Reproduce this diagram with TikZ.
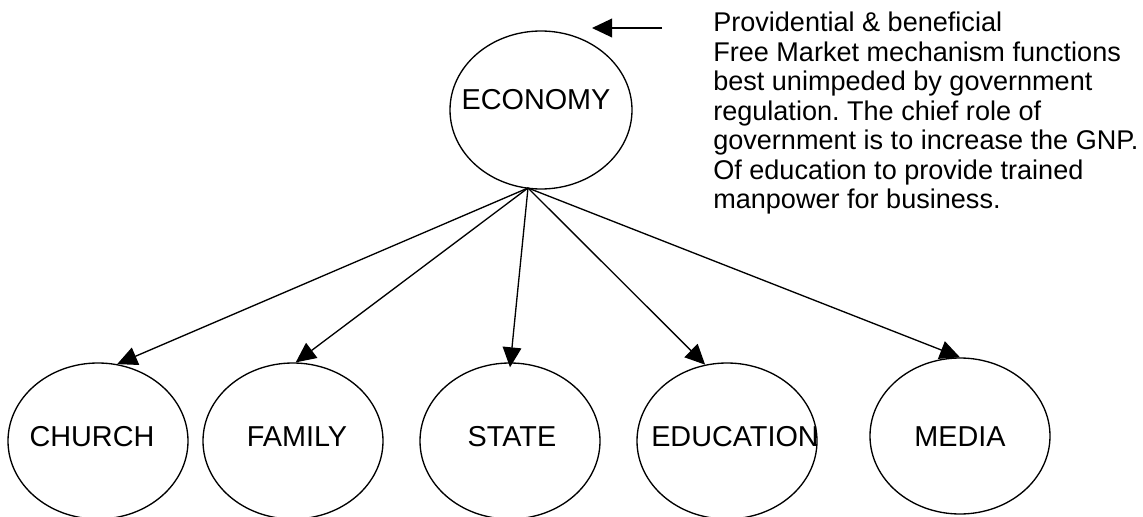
\documentclass[tikz,border=0pt]{standalone}
\usepackage{fontspec}
\setmainfont{Liberation Sans}
\usetikzlibrary{arrows.meta,shapes.geometric}
\frenchspacing
\begin{document}
\begin{tikzpicture}[x=0.75pt,y=-0.75pt,
  oval/.style={draw,ellipse,line width=1pt,minimum width=135pt,minimum height=117pt,inner sep=0pt},
  lbl/.style={font=\fontsize{21.6}{25}\selectfont,inner sep=0pt},
  arr/.style={line width=1pt,-{Triangle[length=15pt,width=14pt]}}
]
\useasboundingbox (0,0) rectangle (1143,517);
\node[oval,minimum width=136.5pt,minimum height=118.5pt,
  label={[lbl,xshift=-3.75pt,yshift=7.5pt]center:ECONOMY}] (econ) at (541,110) {};
\node[oval,label={[lbl,xshift=-4.5pt,yshift=3pt]center:CHURCH}] (church) at (98,441) {};
\node[oval,label={[lbl,xshift=3pt,yshift=3pt]center:FAMILY}] (family) at (293,441) {};
\node[oval,label={[lbl,xshift=1.5pt,yshift=3pt]center:STATE}] (state) at (510,441) {};
\node[oval,label={[lbl,xshift=6pt,yshift=3pt]center:EDUCATION}] (educ) at (727,441) {};
\node[oval,label={[lbl,yshift=-0.75pt]center:MEDIA}] (media) at (960,436) {};
\coordinate (hub) at (528,188);
\draw[arr] (hub) -- (church.76);
\draw[arr] (hub) -- (family.88);
\draw[arr] (hub) -- ([yshift=-3.75pt]state.north);
\draw[arr] (hub) -- (educ.106);
\draw[arr] (hub) -- (media.north);
\coordinate (pstart) at (662,28);
\coordinate (ptip) at (592,28);
\draw[arr] (pstart) -- (ptip);
\node[anchor=north west,align=left,inner sep=0pt,font=\fontsize{20.3}{22.1}\selectfont] (note) at (713,12)
{Providential \& beneficial\\
Free Market mechanism functions\\
best unimpeded by government\\
regulation. The chief role of\\
government is to increase the GNP.\\
Of education to provide trained\\
manpower for business.};
\end{tikzpicture}
\end{document}
